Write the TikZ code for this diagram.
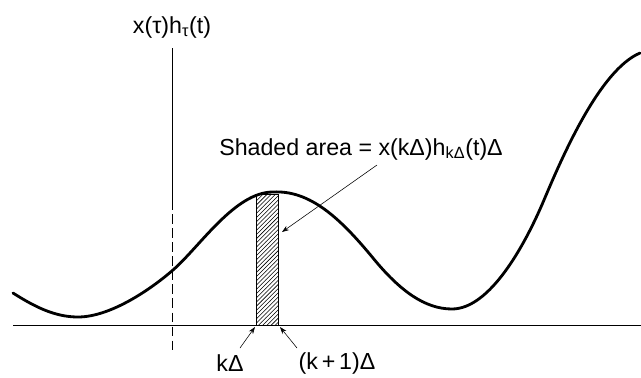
\documentclass[tikz,border=0pt]{standalone}
\usepackage{fontspec}
\setmainfont{Liberation Sans}
\usetikzlibrary{arrows.meta,patterns}

\tikzset{
  lbl/.style={font=\fontsize{16.5}{18}\selectfont, inner sep=1pt},
  leader/.style={thin, black, -{Stealth[length=5pt,width=3.5pt]}}
}

\begin{document}
\begin{tikzpicture}[x=0.025cm, y=-0.025cm]
    \useasboundingbox (0,0) rectangle (641,377);

    % Ось времени
    \draw[thin, black] (13,325) -- (641,325);

    % Вертикаль t
    \draw[thin, black] (172,48) -- (172,200);
    \draw[thin, black, dashed, dash pattern=on 7pt off 3pt] (172,200) -- (172,350);
    \node[lbl] (ylab) at (172,27) {x(τ)h\textsubscript{τ}(t)};

    % Заштрихованная полоска
    \draw[thin, black, pattern=north east lines] (256,325) rectangle (278,194);

    % Кривая x(tau)h_tau(t)
    \draw[line width=2pt, black, line cap=round]
      (13,293) .. controls (35,307) and (55,317) .. (78,317)
               .. controls (110,317) and (150,290) .. (173,270)
               .. controls (200,246.5) and (235,192) .. (273,192)
               .. controls (310,190) and (340,218) .. (373,258)
               .. controls (400,291) and (425,309) .. (452,309)
               .. controls (490,309) and (525,245) .. (544,200)
               .. controls (563,155) and (600,70) .. (640,53);

    % Подписи
    \node[lbl] (area) at (361,149) {Shaded area = x(kΔ)h\textsubscript{kΔ}(t)Δ};
    \node[lbl] (klab) at (230,363) {kΔ};
    \node[lbl] (k1lab) at (337,363) {(k\,+\,1)Δ};

    \coordinate (tail) at (377,165);
    \coordinate (head) at (282,232);
    \coordinate (kpt) at (255,327);
    \coordinate (k1pt) at (280,327);

    \draw[leader] (tail) -- (head);
    \draw[leader] (240,348) -- (kpt);
    \draw[leader] (297,348) -- (k1pt);
\end{tikzpicture}
\end{document}
